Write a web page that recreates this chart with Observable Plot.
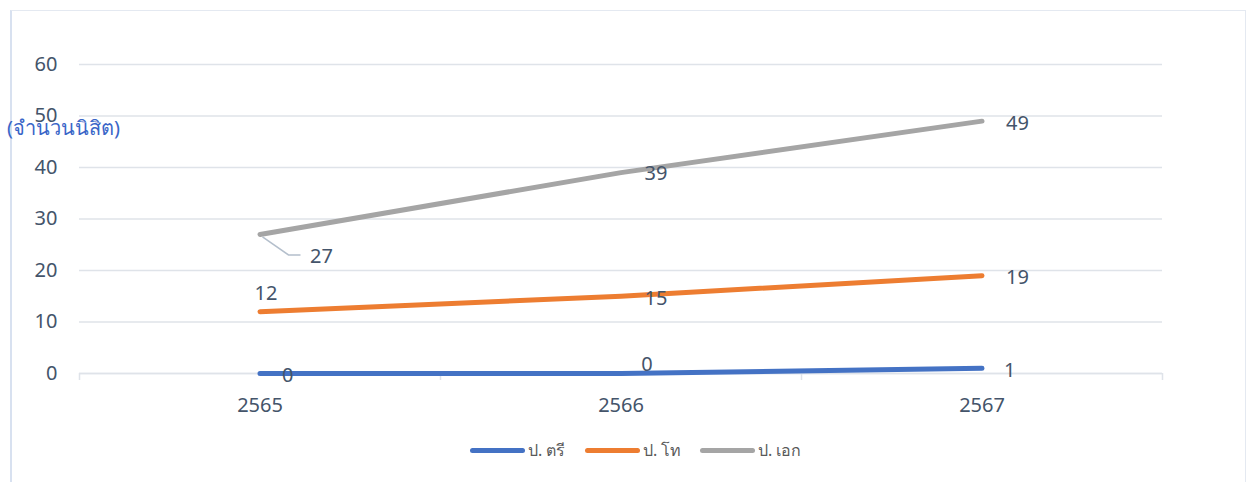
<!DOCTYPE html>
<html>
<head>
<meta charset="utf-8">
<script src="https://cdn.jsdelivr.net/npm/d3@7"></script>
<script src="https://cdn.jsdelivr.net/npm/@observablehq/plot@0.6"></script>
<style>
  html, body { margin: 0; padding: 0; background: #fff; }
  #wrap { position: relative; width: 1258px; height: 482px; overflow: hidden; font-family: "Noto Sans", "Open Sans", sans-serif; }
  #frame { position: absolute; left: 10px; top: 10px; width: 1236px; height: 480px; border: 1px solid #e4e9f1; border-left: 2px solid #d8e1f0; box-sizing: border-box; }
  #chart { position: absolute; left: 0; top: 0; }
  #ytitle { position: absolute; left: 7px; top: 112px; color: #3a66c8; font-size: 20px; font-weight: 400; white-space: nowrap; }
  #legend { position: absolute; top: 438px; left: 0; width: 1258px; height: 24px; }
  .item { position: absolute; top: 0; display: flex; align-items: center; height: 24px; font-size: 16px; color: #595959; }
  .sw { width: 55px; height: 5px; border-radius: 3px; margin-right: 3px; }
</style>
</head>
<body>
<div id="wrap">
  <div id="frame"></div>
  <div id="chart"></div>
  <div id="ytitle">(จำนวนนิสิต)</div>
  <div id="legend"></div>
</div>
<script>
const years = ["2565", "2566", "2567"];
const seriesNames = ["ป. ตรี", "ป. โท", "ป. เอก"];
const bachelor = [0, 0, 1];
const master = [12, 15, 19];
const doctorate = [27, 39, 49];
const colors = ["#4472c4", "#ed7d31", "#a5a5a5"];
const yTicks = [0, 10, 20, 30, 40, 50, 60];

// label placement per point (style only): [dx, dy, anchor]
const labelPlacement = [
  [[22, 2, "start"], [26, -9, "middle"], [22, 2, "start"]],
  [[6, -18, "middle"], [35, 2, "middle"], [24, 2, "start"]],
  [[50, 22, "start"], [35, 1, "middle"], [24, 2, "start"]]
];

const allValues = [bachelor, master, doctorate];
const rows = [];
allValues.forEach((vals, s) => {
  vals.forEach((v, i) => {
    const p = labelPlacement[s][i];
    rows.push({series: seriesNames[s], s, i, year: years[i], value: v, dx: p[0], dy: p[1], anchor: p[2]});
  });
});

const textColor = "#44546a";
const gridColor = "#dfe3e9";

function labelMark(anchor) {
  const data = rows.filter(d => d.anchor === anchor);
  return data.map(d => Plot.text([d], {
    x: "i", y: "value", text: d => String(d.value),
    dx: d.dx, dy: d.dy, textAnchor: anchor,
    fill: textColor, fontSize: 20
  }));
}

// leader line for the 2565 doctorate label
const leader = (index, scales) => {
  const d = rows.find(r => r.s === 2 && r.i === 0);
  const x0 = scales.x(d.i), y0 = scales.y(d.value);
  const g = d3.create("svg:path")
    .attr("d", `M${x0 + 3},${y0 + 3} L${x0 + 29},${y0 + 21} L${x0 + 41},${y0 + 21}`)
    .attr("fill", "none").attr("stroke", "#b4bfcc").attr("stroke-width", 1.5);
  return g.node();
};

const plot = Plot.plot({
  width: 1258,
  height: 420,
  marginLeft: 79,
  marginRight: 96,
  marginTop: 64,
  marginBottom: 47,
  style: {fontFamily: "'Noto Sans', 'Open Sans', sans-serif", background: "transparent"},
  x: {type: "linear", domain: [-0.5, years.length - 0.5]},
  y: {domain: [0, 60]},
  marks: [
    Plot.gridY(yTicks, {stroke: gridColor, strokeOpacity: 1, strokeWidth: 1.5}),
    Plot.axisY(yTicks, {tickSize: 0, tickPadding: 22, fontSize: 20, fill: textColor, label: null}),
    Plot.ruleY([0], {stroke: gridColor, strokeWidth: 1.5}),
    Plot.axisX(d3.range(years.length + 1).map(k => k - 0.5), {tickSize: 7, stroke: gridColor, strokeWidth: 1.5, tickFormat: () => "", label: null}),
    Plot.axisX(d3.range(years.length), {tickSize: 0, tickPadding: 24, fontSize: 20, fill: textColor, tickFormat: i => years[i], label: null}),
    Plot.line(rows, {x: "i", y: "value", z: "series", stroke: d => colors[d.s], strokeWidth: 5, strokeLinecap: "round", strokeLinejoin: "round"}),
    leader,
    ...labelMark("start"),
    ...labelMark("middle")
  ]
});
document.getElementById("chart").appendChild(plot);

const legend = document.getElementById("legend");
const legendLeft = [470, 585, 700];
seriesNames.forEach((n, s) => {
  const it = document.createElement("div");
  it.className = "item";
  it.style.left = legendLeft[s] + "px";
  it.innerHTML = `<span class="sw" style="background:${colors[s]}"></span><span>${n}</span>`;
  legend.appendChild(it);
});
</script>
</body>
</html>
